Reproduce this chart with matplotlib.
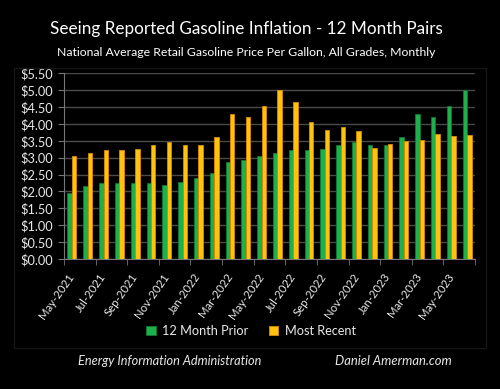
import matplotlib
matplotlib.use("Agg")
import matplotlib.pyplot as plt
import numpy as np
from matplotlib.patches import Rectangle

months = ["May-2021", "Jun-2021", "Jul-2021", "Aug-2021", "Sep-2021", "Oct-2021",
          "Nov-2021", "Dec-2021", "Jan-2022", "Feb-2022", "Mar-2022", "Apr-2022",
          "May-2022", "Jun-2022", "Jul-2022", "Aug-2022", "Sep-2022", "Oct-2022",
          "Nov-2022", "Dec-2022", "Jan-2023", "Feb-2023", "Mar-2023", "Apr-2023",
          "May-2023", "Jun-2023"]
prior = [1.95, 2.15, 2.26, 2.26, 2.26, 2.24, 2.19, 2.27, 2.41, 2.56, 2.87, 2.93,
         3.06, 3.13, 3.22, 3.24, 3.25, 3.37, 3.48, 3.39, 3.39, 3.60, 4.30, 4.20,
         4.52, 5.02]
recent = [3.06, 3.13, 3.22, 3.24, 3.25, 3.37, 3.48, 3.39, 3.39, 3.60, 4.30, 4.20,
          4.52, 5.02, 4.65, 4.07, 3.81, 3.91, 3.78, 3.30, 3.41, 3.49, 3.52, 3.70,
          3.64, 3.66]
yticks = [0, 0.5, 1.0, 1.5, 2.0, 2.5, 3.0, 3.5, 4.0, 4.5, 5.0, 5.5]

W, H = 500, 389
fig = plt.figure(figsize=(W / 100, H / 100), dpi=100, facecolor="black")
fam = ["Lato", "DejaVu Sans"]

left, right, top, bottom = 64, 475, 73.3, 259
ax = fig.add_axes([left / W, 1 - bottom / H, (right - left) / W, (bottom - top) / H])
ax.set_facecolor("black")

x = np.arange(len(months))
bw = 0.28
ax.bar(x - bw / 2, prior, bw, color="#1fb04c", edgecolor="#0e7a33", linewidth=0.6,
       label="12 Month Prior", zorder=3)
ax.bar(x + bw / 2, recent, bw, color="#ffc20e", edgecolor="#d98a00", linewidth=0.6,
       label="Most Recent", zorder=3)

ax.set_xlim(-0.5, len(months) - 0.5)
ax.set_ylim(0, 5.5)
ax.set_yticks(yticks)
ax.set_yticklabels([f"${v:.2f}" for v in yticks], fontsize=9.2, color="#e8e8e8",
                   family=fam)
ax.yaxis.grid(True, color="#4a4a4a", linewidth=1.0, zorder=0)
ax.tick_params(axis="y", length=4, color="#777777", pad=4)

ax.set_xticks(x[::2])
ax.set_xticklabels(months[::2], rotation=55, ha="right", va="center",
                   rotation_mode="anchor", fontsize=8.2, color="#e8e8e8", family=fam)
ax.tick_params(axis="x", which="major", length=0, pad=11)
ax.set_xticks(np.arange(-0.5, len(months), 2), minor=True)
ax.tick_params(axis="x", which="minor", length=4, color="#777777")

for s in ["top", "right"]:
    ax.spines[s].set_visible(False)
ax.spines["left"].set_color("#777777")
ax.spines["bottom"].set_color("#777777")

# faint chart-area frame
fig.patches.append(Rectangle((14 / W, 1 - 348 / H), 472 / W, 280 / H,
                             transform=fig.transFigure, fill=False,
                             edgecolor="#161616", linewidth=1.0))

fig.text(246 / W, 1 - 29 / H, "Seeing Reported Gasoline Inflation - 12 Month Pairs",
         ha="center", va="center", fontsize=12.3, color="white", family=fam)
fig.text(246 / W, 1 - 53 / H, "National Average Retail Gasoline Price Per Gallon, All Grades, Monthly",
         ha="center", va="center", fontsize=8.85, color="white", family=fam)

leg = fig.legend(loc="center", bbox_to_anchor=(251 / W, 1 - 331 / H), ncol=2,
                 frameon=False, labelcolor="#e8e8e8",
                 handlelength=0.75, handleheight=0.75, handletextpad=0.5,
                 columnspacing=1.6, prop={"family": fam, "size": 9.2})

fig.text(170 / W, 1 - 361 / H, "Energy Information Administration", ha="center",
         va="center", fontsize=9.2, color="#e8e8e8", style="italic", family=fam)
fig.text(393 / W, 1 - 361 / H, "Daniel Amerman.com", ha="center",
         va="center", fontsize=9.4, color="#e8e8e8", style="italic", family=fam)

fig.savefig("out.png", dpi=100, facecolor="black")
